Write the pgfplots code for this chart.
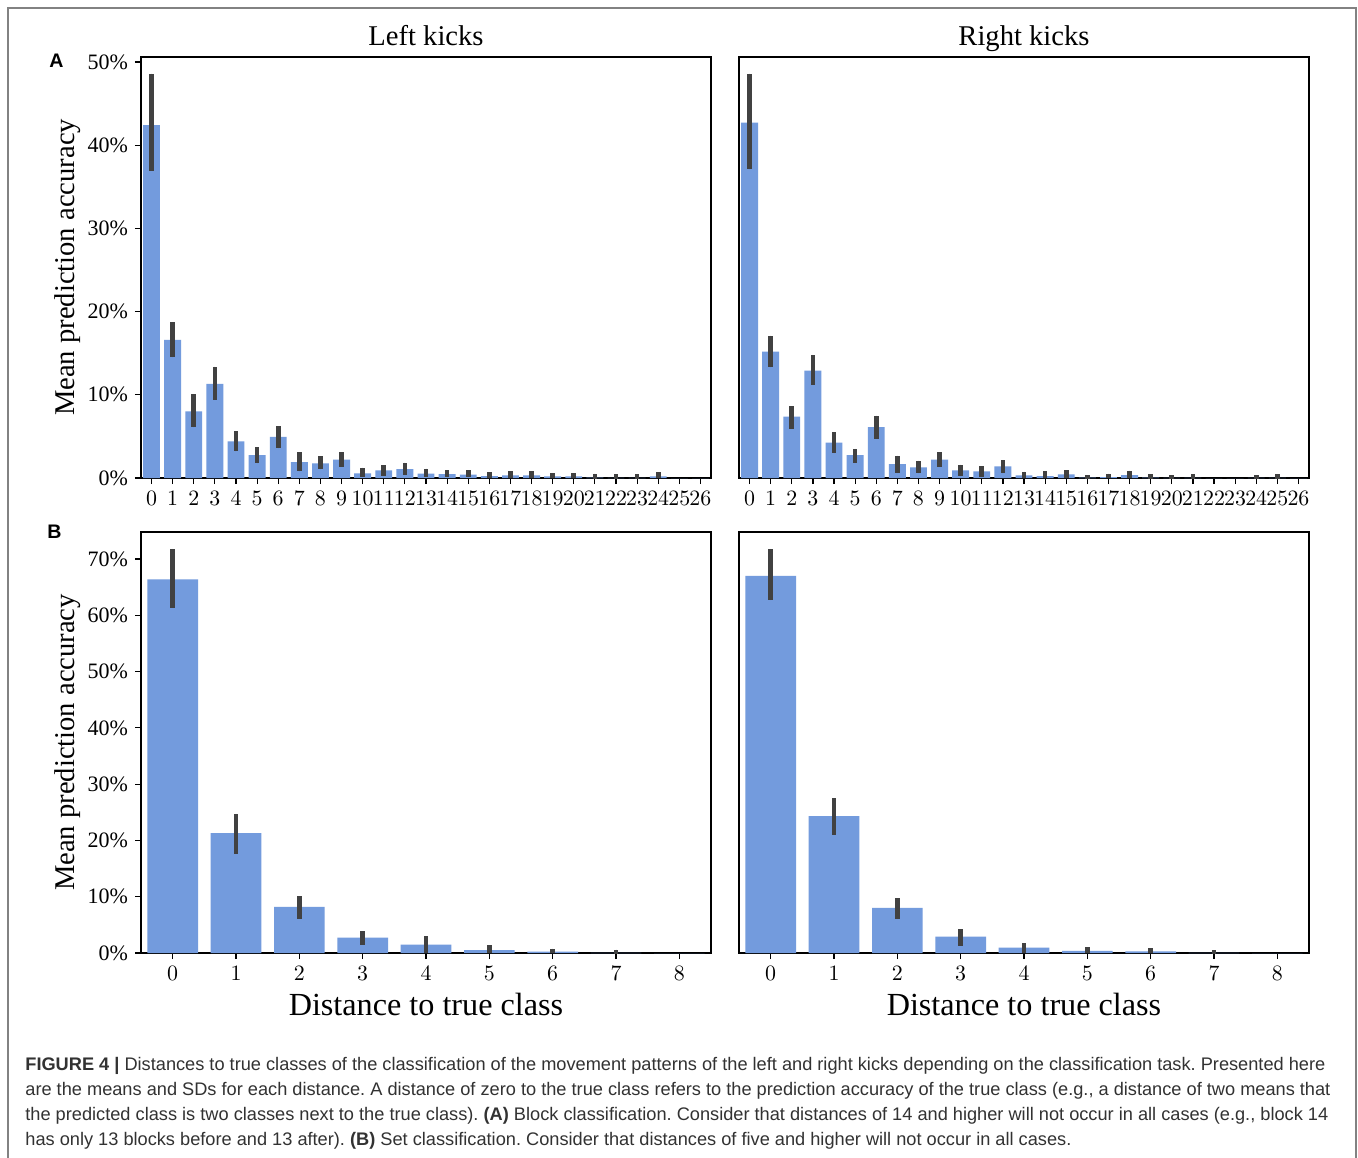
\documentclass[border=0pt]{standalone}
\usepackage{pgfplots}
\pgfplotsset{compat=1.18}
\usepackage{fontspec}
\setmainfont{Liberation Serif}
\newfontfamily\capfont{Liberation Sans}
\definecolor{barblue}{RGB}{115,155,221}
\definecolor{errgray}{RGB}{65,65,65}
\definecolor{framegray}{RGB}{130,130,130}
\definecolor{captext}{RGB}{50,50,50}

\pgfplotsset{
  kickbase/.style={
    scale only axis, width=285pt, height=210.5pt,
    ymin=0,
    axis line style={line width=0.75pt},
    tick style={black, line width=0.6pt},
    tick align=outside, major tick length=3pt,
    tick pos=left,
    ticklabel style={font=\fontsize{11}{13}\selectfont},
    xtick=data,
    ybar, bar width=0.8,
    every axis title shift=5.5pt,
    title style={font=\fontsize{14.3}{17}\selectfont, at={(axis description cs:0.5,1)}, anchor=base},
    xlabel style={font=\fontsize{16.1}{19}\selectfont, at={(axis description cs:0.5,-0.1473)}, anchor=base},
    ylabel style={font=\fontsize{14.3}{17}\selectfont, at={(axis description cs:-0.1158,0.5)}, anchor=base},
  },
  toprow/.style={kickbase, xmin=-0.5, xmax=26.5, ymax=50.6,
    ytick={0,10,20,30,40,50}},
  botrow/.style={kickbase, xmin=-0.5, xmax=8.5, ymax=74.8,
    ytick={0,10,20,30,40,50,60,70}},
  leftcol/.style={yticklabels={0\%,10\%,20\%,30\%,40\%,50\%,60\%,70\%}, ylabel={Mean prediction accuracy}},
  rightcol/.style={ytick=\empty},
  kickbars/.style={fill=barblue, draw=none,
    error bars/.cd, y dir=both, y explicit, error mark=none,
    error bar style={line width=2.35pt, errgray}},
}

\begin{document}
\frenchspacing
\begin{tikzpicture}
\useasboundingbox (0pt,0pt) rectangle (679pt,-578.5pt);
\fill[white] (0pt,0pt) rectangle (679pt,-578.5pt);
\draw[framegray, line width=0.75pt] (4pt,-580pt) -- (4pt,-4pt) -- (678pt,-4pt) -- (678pt,-580pt);

% Top-left
\begin{axis}[toprow, leftcol, at={(70.5pt,-239pt)}, anchor=south west, title={Left kicks}]
\addplot[kickbars] coordinates {
(0,42.4) += (0,6.2) -= (0,5.5)
(1,16.6) += (0,2.1) -= (0,2.1)
(2,8.0) += (0,2.1) -= (0,1.9)
(3,11.3) += (0,2.1) -= (0,1.9)
(4,4.4) += (0,1.25) -= (0,1.2)
(5,2.76) += (0,0.94) -= (0,1.0)
(6,4.93) += (0,1.27) -= (0,1.36)
(7,1.92) += (0,1.18) -= (0,1.12)
(8,1.76) += (0,0.84) -= (0,0.72)
(9,2.2) += (0,0.9) -= (0,0.84)
(10,0.56) += (0,0.68) -= (0,0.4)
(11,0.92) += (0,0.64) -= (0,0.64)
(12,1.08) += (0,0.76) -= (0,0.68)
(13,0.52) += (0,0.6) -= (0,0.36)
(14,0.48) += (0,0.48) -= (0,0.4)
(15,0.4) += (0,0.52) -= (0,0.32)
(16,0.24) += (0,0.48) -= (0,0.2)
(17,0.32) += (0,0.52) -= (0,0.28)
(18,0.32) += (0,0.52) -= (0,0.28)
(19,0.2) += (0,0.4) -= (0,0.2)
(20,0.2) += (0,0.36) -= (0,0.2)
(21,0.04) += (0,0.48) -= (0,0.04)
(22,0.02) += (0,0.42) -= (0,0.02)
(23,0.02) += (0,0.46) -= (0,0.02)
(24,0.2) += (0,0.48) -= (0,0.2)
(25,0) += (0,0) -= (0,0)
(26,0) += (0,0) -= (0,0)
};
\end{axis}

% Top-right
\begin{axis}[toprow, rightcol, at={(369.5pt,-239pt)}, anchor=south west, title={Right kicks}]
\addplot[kickbars] coordinates {
(0,42.7) += (0,5.9) -= (0,5.6)
(1,15.2) += (0,1.9) -= (0,1.9)
(2,7.37) += (0,1.28) -= (0,1.47)
(3,12.9) += (0,1.9) -= (0,1.7)
(4,4.25) += (0,1.25) -= (0,1.25)
(5,2.76) += (0,0.74) -= (0,0.92)
(6,6.13) += (0,1.37) -= (0,1.43)
(7,1.68) += (0,1.0) -= (0,1.08)
(8,1.28) += (0,0.82) -= (0,0.72)
(9,2.2) += (0,0.9) -= (0,0.84)
(10,0.92) += (0,0.68) -= (0,0.72)
(11,0.8) += (0,0.64) -= (0,0.68)
(12,1.4) += (0,0.76) -= (0,0.8)
(13,0.32) += (0,0.44) -= (0,0.28)
(14,0.24) += (0,0.56) -= (0,0.24)
(15,0.44) += (0,0.48) -= (0,0.44)
(16,0.04) += (0,0.32) -= (0,0.04)
(17,0.12) += (0,0.4) -= (0,0.12)
(18,0.36) += (0,0.52) -= (0,0.36)
(19,0.04) += (0,0.44) -= (0,0.04)
(20,0.02) += (0,0.34) -= (0,0.02)
(21,0.02) += (0,0.42) -= (0,0.02)
(22,0) += (0,0) -= (0,0)
(23,0) += (0,0) -= (0,0)
(24,0.02) += (0,0.34) -= (0,0.02)
(25,0.02) += (0,0.42) -= (0,0.02)
(26,0) += (0,0) -= (0,0)
};
\end{axis}

% Bottom-left
\begin{axis}[botrow, leftcol, at={(70.5pt,-476.5pt)}, anchor=south west, xlabel={Distance to true class}]
\addplot[kickbars] coordinates {
(0,66.4) += (0,5.4) -= (0,5.1)
(1,21.3) += (0,3.4) -= (0,3.7)
(2,8.2) += (0,1.9) -= (0,2.1)
(3,2.72) += (0,1.18) -= (0,1.24)
(4,1.48) += (0,1.48) -= (0,1.42)
(5,0.53) += (0,0.87) -= (0,0.53)
(6,0.24) += (0,0.56) -= (0,0.24)
(7,0.02) += (0,0.58) -= (0,0.02)
(8,0) += (0,0) -= (0,0)
};
\end{axis}

% Bottom-right
\begin{axis}[botrow, rightcol, at={(369.5pt,-476.5pt)}, anchor=south west, xlabel={Distance to true class}]
\addplot[kickbars] coordinates {
(0,67.0) += (0,4.8) -= (0,4.3)
(1,24.3) += (0,3.2) -= (0,3.3)
(2,8.0) += (0,1.77) -= (0,1.96)
(3,2.9) += (0,1.36) -= (0,1.6)
(4,0.95) += (0,0.75) -= (0,0.89)
(5,0.36) += (0,0.64) -= (0,0.36)
(6,0.3) += (0,0.53) -= (0,0.3)
(7,0.02) += (0,0.51) -= (0,0.02)
(8,0) += (0,0) -= (0,0)
};
\end{axis}

\node[anchor=base west, inner sep=0pt, font=\capfont\bfseries\fontsize{9.8}{12}\selectfont] at (24.5pt,-33.5pt) {A};
\node[anchor=base west, inner sep=0pt, font=\capfont\bfseries\fontsize{9.8}{12}\selectfont] at (23.5pt,-269pt) {B};

\node[anchor=base west, inner sep=0pt, align=left, text=captext, font=\capfont\fontsize{9.1}{12.35}\selectfont] at (12.5pt,-572.5pt)
{{\bfseries FIGURE 4 |} Distances to true classes of the classification of the movement patterns of the left and right kicks depending on the classification task. Presented here\\
are the means and SDs for each distance. A distance of zero to the true class refers to the prediction accuracy of the true class (e.g., a distance of two means that\\
the predicted class is two classes next to the true class). {\bfseries (A)} Block classification. Consider that distances of 14 and higher will not occur in all cases (e.g., block 14\\
has only 13 blocks before and 13 after). {\bfseries (B)} Set classification. Consider that distances of five and higher will not occur in all cases.};
\end{tikzpicture}
\end{document}
